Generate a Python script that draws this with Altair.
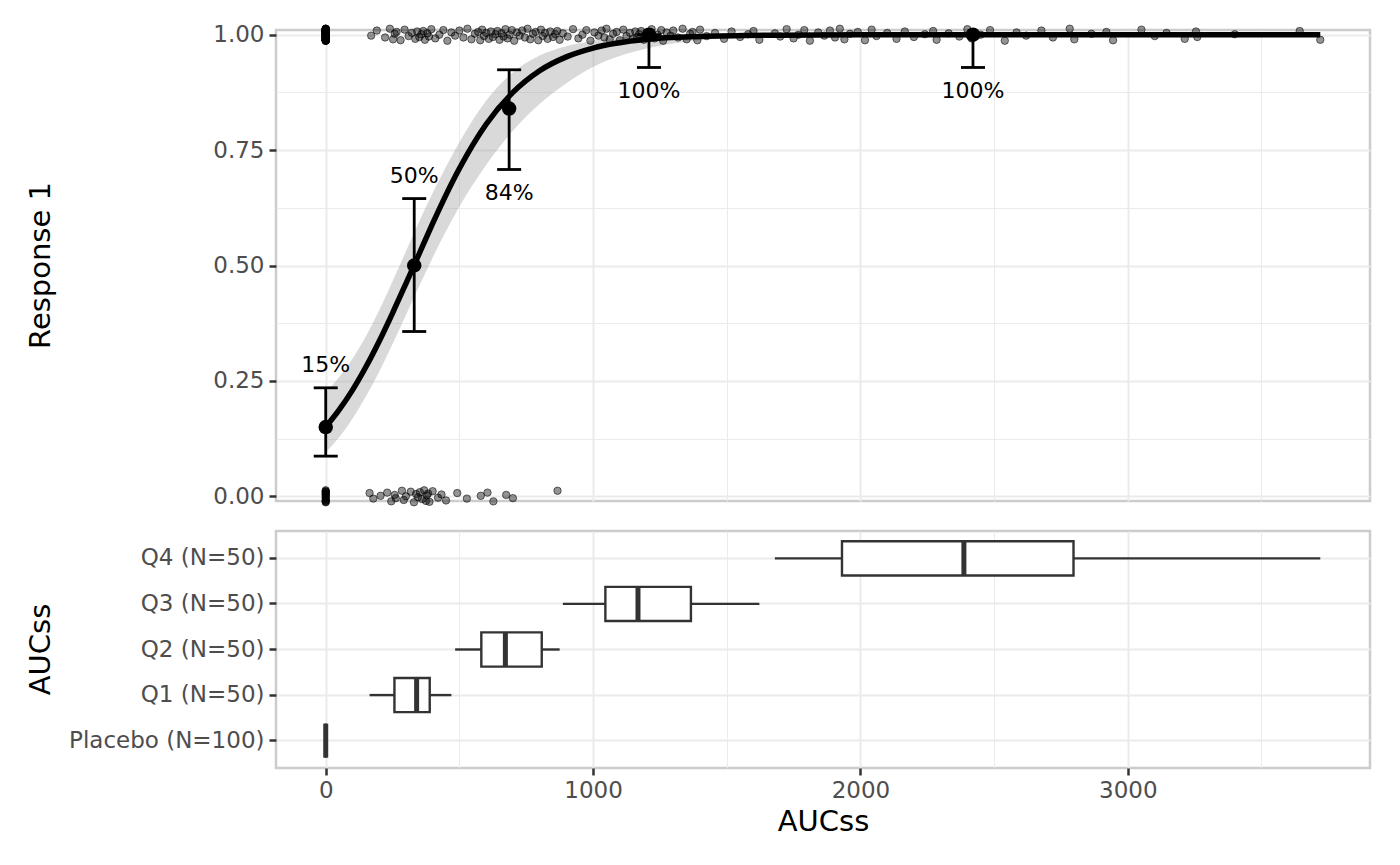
import altair as alt
import pandas as pd

FONT = "DejaVu Sans"

# ---------------- bottom panel: AUCss distribution per group ----------------
GROUPS = ["Placebo (N=100)", "Q1 (N=50)", "Q2 (N=50)", "Q3 (N=50)", "Q4 (N=50)"]
BOX_LO = [0, 164, 484, 887, 1680]
BOX_Q1 = [0, 257, 582, 1046, 1931]
BOX_MED = [0, 340, 672, 1168, 2387]
BOX_Q3 = [0, 389, 808, 1366, 2797]
BOX_HI = [0, 470, 875, 1622, 3720]

# ---------------- top panel: observed response rate per group ----------------
GRP_X = [0, 331, 686, 1209, 2421]
GRP_P = [0.15, 0.50, 0.84, 1.00, 1.00]
GRP_LO = [0.087, 0.357, 0.708, 0.929, 0.929]
GRP_HI = [0.235, 0.645, 0.924, 1.00, 1.00]
GRP_LABEL = ["15%", "50%", "84%", "100%", "100%"]
GRP_ABOVE = [True, True, False, False, False]

# ---------------- logistic fit with confidence band ----------------
FIT_X = [0, 50, 100, 150, 200, 250, 300, 350, 400, 450, 500, 600, 700, 800,
         900, 1000, 1200, 1400, 1700, 2000, 2500, 3000, 3720]
FIT_P = [0.150, 0.187, 0.230, 0.280, 0.336, 0.397, 0.461, 0.526, 0.591, 0.653,
         0.710, 0.806, 0.875, 0.922, 0.952, 0.971, 0.990, 0.996, 0.999, 1.0,
         1.0, 1.0, 1.0]
FIT_LO = [0.095, 0.128, 0.168, 0.216, 0.270, 0.330, 0.393, 0.456, 0.517, 0.575,
          0.628, 0.718, 0.792, 0.850, 0.895, 0.930, 0.970, 0.988, 0.997, 0.999,
          1.0, 1.0, 1.0]
FIT_HI = [0.225, 0.258, 0.298, 0.346, 0.403, 0.466, 0.531, 0.596, 0.657, 0.714,
          0.767, 0.857, 0.918, 0.955, 0.975, 0.987, 0.997, 0.999, 1.0, 1.0,
          1.0, 1.0, 1.0]

# ---------------- individual subjects (AUCss, response) ----------------
X_RESP = ([0] * 85 +
          [170, 191, 222, 240, 252, 258, 265, 280, 295, 310, 322, 335, 342, 350,
           358, 365, 371, 380, 386, 395, 410, 425, 440, 455, 470] +
          [484, 500, 515, 530, 545, 558, 570, 578, 585, 592, 600, 610, 618, 625,
           635, 642, 650, 658, 665, 672, 680, 688, 696, 705, 715, 725, 735, 745,
           755, 765, 775, 785, 795, 805, 812, 820, 830, 840, 850, 858, 866, 875] +
          [887, 905, 925, 945, 960, 975, 990, 1005, 1020, 1032, 1042, 1050, 1062,
           1075, 1088, 1100, 1113, 1125, 1138, 1150, 1158, 1165, 1172, 1180, 1190,
           1200, 1210, 1219, 1230, 1242, 1255, 1262, 1275, 1290, 1300, 1318, 1335,
           1350, 1363, 1372, 1390, 1400, 1425, 1456, 1490, 1518, 1550, 1580, 1600,
           1622] +
          [1680, 1700, 1724, 1750, 1768, 1790, 1811, 1842, 1865, 1886, 1905, 1923,
           1940, 1961, 1990, 2017, 2042, 2060, 2100, 2135, 2166, 2200, 2241, 2272,
           2285, 2330, 2370, 2400, 2416, 2450, 2485, 2540, 2584, 2620, 2677, 2720,
           2783, 2800, 2864, 2920, 2945, 3051, 3101, 3145, 3213, 3255, 3260, 3400,
           3643, 3720])
X_NONRESP = ([0] * 15 +
             [164, 178, 205, 230, 245, 258, 262, 285, 292, 300, 318, 330, 338, 345,
              352, 360, 368, 375, 378, 383, 388, 400, 420, 433, 450] +
             [492, 528, 580, 605, 627, 675, 700, 867])
# vertical jitter offsets
JITTER = [0.008, -0.011, 0.003, -0.004, 0.012, -0.008, 0.000, 0.010, -0.013,
          0.005, -0.002, 0.009, -0.006, 0.013, -0.010, 0.002, 0.006, -0.012,
          0.011, -0.003, 0.004, -0.009, 0.007, -0.005, 0.001]

# ---------------- build tables ----------------
pts = pd.DataFrame({
    "x": X_RESP + X_NONRESP,
    "y": [1 + JITTER[i % len(JITTER)] for i in range(len(X_RESP))] +
         [0 + JITTER[(i + 7) % len(JITTER)] for i in range(len(X_NONRESP))],
})
fit = pd.DataFrame({"x": FIT_X, "p": FIT_P, "lo": FIT_LO, "hi": FIT_HI})
grp = pd.DataFrame({"x": GRP_X, "p": GRP_P, "lo": GRP_LO, "hi": GRP_HI,
                    "label": GRP_LABEL, "above": GRP_ABOVE})
box = pd.DataFrame({"group": GROUPS, "lo": BOX_LO, "q1": BOX_Q1, "med": BOX_MED,
                    "q3": BOX_Q3, "hi": BOX_HI})

# ---------------- scales / axes ----------------
xsc = alt.Scale(domain=[-186, 3906], nice=False, zero=False)
ysc = alt.Scale(domain=[-0.0102, 1.0102], nice=False, zero=False)
MAJOR_X = [0, 1000, 2000, 3000]
MINOR_X = [500, 1500, 2500, 3500]
MAJOR_Y = [0, 0.25, 0.5, 0.75, 1.0]
MINOR_Y = [0.125, 0.375, 0.625, 0.875]

x_top_axis = alt.Axis(values=MAJOR_X, labels=False, ticks=False, domain=False, grid=True)
y_top_axis = alt.Axis(values=MAJOR_Y, format=".2f", grid=True, titleX=-236, titleY=235,
                      titleAngle=-90, titleBaseline="middle", titleAlign="center")


def XT(f):
    return alt.X(f, type="quantitative", scale=xsc, axis=x_top_axis, title=None)


def YT(f):
    return alt.Y(f, type="quantitative", scale=ysc, axis=y_top_axis, title="Response 1")


ribbon = alt.Chart(fit).mark_area(color="#999999", opacity=0.37,
                                  interpolate="monotone").encode(
    x=XT("x"), y=YT("lo"), y2="hi")
points = alt.Chart(pts).mark_circle(size=55, color="black", fillOpacity=0.42,
                                     stroke="black", strokeWidth=1,
                                     strokeOpacity=0.55).encode(x=XT("x"), y=YT("y"))
curve = alt.Chart(fit).mark_line(color="black", strokeWidth=5.5,
                                 interpolate="monotone").encode(x=XT("x"), y=YT("p"))
err = alt.Chart(grp).mark_rule(color="black", strokeWidth=2.8).encode(
    x=XT("x"), y=YT("lo"), y2="hi")
cap_lo = alt.Chart(grp).mark_tick(color="black", orient="horizontal", size=24,
                                  thickness=2.8, opacity=1).encode(x=XT("x"), y=YT("lo"))
cap_hi = alt.Chart(grp).mark_tick(color="black", orient="horizontal", size=24,
                                  thickness=2.8, opacity=1).encode(x=XT("x"), y=YT("hi"))
means = alt.Chart(grp).mark_circle(size=210, color="black", opacity=1).encode(
    x=XT("x"), y=YT("p"))
lab_above = alt.Chart(grp).transform_filter("datum.above").mark_text(
    font=FONT, fontSize=22, color="black", baseline="middle", dy=-23).encode(
    x=XT("x"), y=YT("hi"), text="label:N")
lab_below = alt.Chart(grp).transform_filter("!datum.above").mark_text(
    font=FONT, fontSize=22, color="black", baseline="middle", dy=24).encode(
    x=XT("x"), y=YT("lo"), text="label:N")

top_main = alt.layer(ribbon, points, curve, err, cap_lo, cap_hi, means,
                     lab_above, lab_below)
top_minor = alt.Chart(fit).mark_line(opacity=0).encode(
    x=alt.X("x:Q", scale=xsc, title=None,
            axis=alt.Axis(values=MINOR_X, labels=False, ticks=False, domain=False,
                          grid=True, gridWidth=1, orient="top")),
    y=alt.Y("p:Q", scale=ysc, title=None,
            axis=alt.Axis(values=MINOR_Y, labels=False, ticks=False, domain=False,
                          grid=True, gridWidth=1, orient="right")))
top = alt.layer(top_minor, top_main).resolve_axis(
    x="independent", y="independent").properties(width=1094, height=471)

# ---------------- bottom panel ----------------
gsc = alt.Scale(domain=GROUPS[::-1], paddingInner=0.25, paddingOuter=0.225)
x_bot_axis = alt.Axis(values=MAJOR_X, grid=True, format="d", titlePadding=5,
                      labelPadding=4)
y_bot_axis = alt.Axis(grid=True, bandPosition=0.5, titleX=-236, titleY=118,
                      titleAngle=-90, titleBaseline="middle", titleAlign="center",
                      labelLimit=400)


def XB(f):
    return alt.X(f, type="quantitative", scale=xsc, axis=x_bot_axis, title="AUCss")


def YB():
    return alt.Y("group", type="nominal", scale=gsc, sort=None, axis=y_bot_axis,
                 title="AUCss")


wh_lo = alt.Chart(box).mark_rule(color="#333333", strokeWidth=2.4).encode(
    x=XB("lo"), x2="q1", y=YB())
wh_hi = alt.Chart(box).mark_rule(color="#333333", strokeWidth=2.4).encode(
    x=XB("q3"), x2="hi", y=YB())
boxes = alt.Chart(box).mark_bar(fill="white", stroke="#333333", strokeWidth=2.4).encode(
    x=XB("q1"), x2="q3", y=YB())
medians = alt.Chart(box).mark_tick(color="#333333", orient="vertical", thickness=5,
                                   size=34, opacity=1).encode(x=XB("med"), y=YB())
bot_main = alt.layer(wh_lo, wh_hi, boxes, medians)
bot_minor = alt.Chart(box).mark_tick(opacity=0).encode(
    x=alt.X("med:Q", scale=xsc, title=None,
            axis=alt.Axis(values=MINOR_X, labels=False, ticks=False, domain=False,
                          grid=True, gridWidth=1, orient="top")),
    y=alt.Y("group:N", scale=gsc, sort=None, axis=None))
bottom = alt.layer(bot_minor, bot_main).resolve_axis(
    x="independent", y="independent").properties(width=1094, height=237)

chart = alt.vconcat(top, bottom, spacing=19).properties(
    padding={"left": 16, "top": 13, "right": 5, "bottom": 5},
    background="white",
).configure_view(stroke="#cccccc", strokeWidth=2.5).configure_axis(
    labelFont=FONT, labelFontSize=23, labelColor="#4d4d4d",
    titleFont=FONT, titleFontSize=29, titleFontWeight="normal", titleColor="black",
    gridColor="#ebebeb", gridWidth=2, tickColor="#333333", tickSize=7, tickWidth=2.5,
    domain=False, labelPadding=5
)

chart.save("out.html", embed_options={"renderer": "svg", "actions": False})
